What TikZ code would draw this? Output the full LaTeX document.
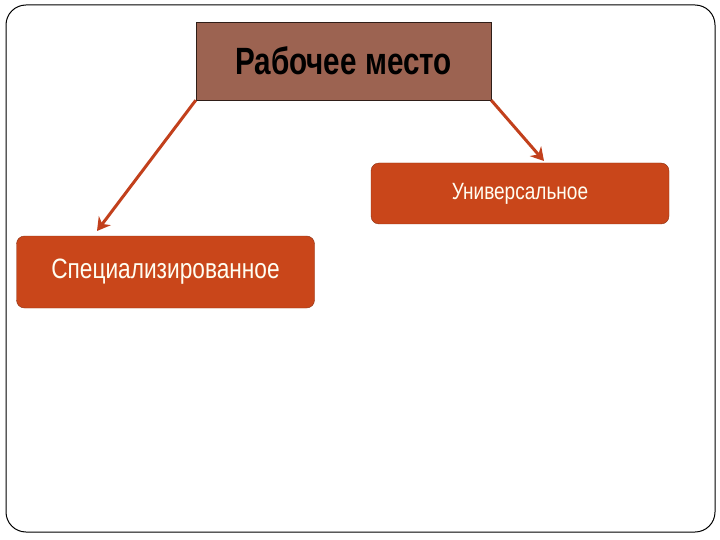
\documentclass[tikz,border=0pt]{standalone}
\usepackage{fontspec}
\usetikzlibrary{arrows.meta}
\newfontfamily\narrowfont[FakeStretch=0.81]{Liberation Sans}
\newfontfamily\headfont[FakeStretch=0.78]{Liberation Sans}
\definecolor{headbrown}{HTML}{9C6351}
\definecolor{boxorange}{HTML}{C9461A}
\definecolor{arroworange}{HTML}{C2401C}

\begin{document}
\begin{tikzpicture}[
    x=1pt, y=-1pt,
    headbox/.style={draw=black!70!headbrown, fill=headbrown, minimum width=295pt, minimum height=78pt,
        font=\headfont\bfseries\fontsize{38}{40}\selectfont, text=black},
    kindbox/.style={draw=boxorange!70!black, fill=boxorange, rounded corners=8pt, minimum width=298pt,
        text=white!95!yellow},
    link/.style={draw=arroworange, line width=3pt, -{Stealth[length=13pt, width=15pt]}},
    ]
    \useasboundingbox (0,0) rectangle (720,540);
    \draw[black, line width=1pt, rounded corners=20pt] (6,5) rectangle (715,532);

    \node[headbox] (rabochee) at (343.5,61) {Рабочее место};
    \node[kindbox, minimum height=61pt, font=\narrowfont\fontsize{23.5}{26}\selectfont] (universal) at (520,193.5) {Универсальное};
    \node[kindbox, minimum height=72pt, font=\narrowfont\fontsize{28}{30}\selectfont] (special) at (165.5,272) {Специализированное};

    \coordinate (specialtip) at (97,231);
    \coordinate (universaltip) at (544,161);
    \draw[link] (rabochee.south west) -- (specialtip);
    \draw[link] (rabochee.south east) -- (universaltip);
\end{tikzpicture}
\end{document}
